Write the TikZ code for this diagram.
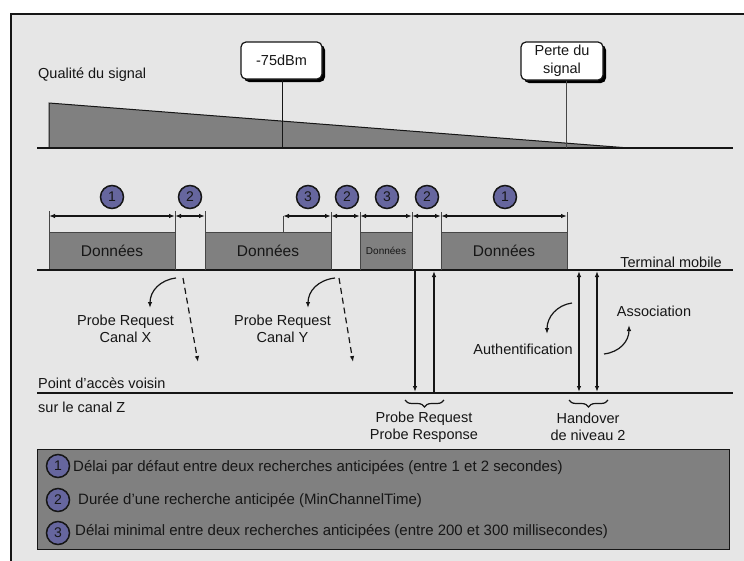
\documentclass[tikz,border=0pt]{standalone}
\usepackage{fontspec}
\setmainfont{Liberation Sans}
\usetikzlibrary{arrows.meta,decorations.pathreplacing,shadows}

\definecolor{panel}{RGB}{230,230,230}
\definecolor{slab}{RGB}{128,128,128}
\definecolor{badgefill}{RGB}{102,102,158}
\definecolor{ink}{RGB}{22,22,22}
\definecolor{tick}{RGB}{70,70,70}

\tikzset{
  tipA/.tip={Latex[length=6pt,width=4.5pt]},
  lbl/.style={font=\fontsize{14.5}{17}\selectfont, text=ink, inner sep=0pt, align=center},
  legendtxt/.style={font=\fontsize{15}{17}\selectfont, text=ink, inner sep=0pt, anchor=west},
  badge/.style={circle, draw=ink, line width=1.5pt, fill=badgefill, minimum size=23pt,
    inner sep=0pt, font=\fontsize{14}{14}\selectfont, text=ink},
  databox/.style={draw=tick, line width=0.8pt, fill=slab, minimum height=38pt,
    inner sep=0pt, font=\fontsize{15.5}{17}\selectfont, text=ink},
  labelbox/.style={draw=ink, fill=white, rounded corners=5pt, line width=1.2pt,
    align=center, inner sep=0pt, font=\fontsize{14.5}{18}\selectfont, text=ink,
    drop shadow={shadow xshift=3pt, shadow yshift=-3pt, opacity=1, fill=black}},
  axis/.style={draw=ink, line width=1.8pt},
  ticker/.style={draw=tick, line width=0.9pt},
  dim/.style={draw=ink, line width=1.4pt, tipA-tipA},
  msg/.style={draw=ink, line width=1.4pt},
  curvearrow/.style={draw=ink, line width=1.2pt, -tipA},
  dashmsg/.style={draw=ink, line width=1.2pt, dash pattern=on 6pt off 4pt, -tipA},
}

\begin{document}
\begin{tikzpicture}[x=1pt,y=-1pt]
\useasboundingbox (0,0) rectangle (744,560);

% outer panel
\draw[draw=ink, line width=2pt, fill=panel] (11,14) rectangle (760,580);

% ---- signal quality ----
\node[lbl, anchor=west] (qual) at (38,75) {Qualité du signal};
\fill[slab] (49,148) -- (49,103) -- (629,148) -- cycle;
\draw[draw=ink, line width=1pt] (49,148) -- (49,103) -- (629,148);
\coordinate (sigL) at (37,148);
\coordinate (sigR) at (733,148);
\draw[axis] (sigL) -- (sigR);

\node[labelbox, minimum width=81pt, minimum height=37pt] (dbm) at (281.5,60.5) {-75dBm};
\node[labelbox, minimum width=82pt, minimum height=38pt] (loss) at (562,61) {Perte du\\signal};
\coordinate (dbmFoot) at (282,148);
\coordinate (lossFoot) at (566,148);
\draw[draw=ink, line width=1pt] (dbm.south -| dbmFoot) -- (dbmFoot);
\draw[draw=tick, line width=1pt] (loss.south -| lossFoot) -- (lossFoot);

% ---- mobile terminal timeline ----
\node[databox, minimum width=126pt] (d1) at (112,251) {Données};
\node[databox, minimum width=126pt] (d2) at (268,251) {Données};
\node[databox, minimum width=52pt, font=\fontsize{10}{12}\selectfont] (d3) at (386,251) {Données};
\node[databox, minimum width=126pt] (d4) at (504,251) {Données};

\coordinate (mobL) at (37,270);
\coordinate (mobR) at (733,270);
\draw[axis] (mobL) -- (mobR);
\node[lbl, anchor=east] (mob) at (722,262) {Terminal mobile};

% boundary ticks
\foreach \n/\x/\ya/\yb in {a/49/211/232, b/175/211/270, c/205/211/270, d/283/216/232,
                           e/331/212/270, f/360/212/270, g/412/212/270, h/441/212/270, i/567/212/232}{
  \coordinate (top\n) at (\x,\ya);
  \coordinate (bot\n) at (\x,\yb);
  \coordinate (m\n) at (\x,216);
  \draw[ticker] (top\n) -- (bot\n);
}

% interval arrows
\draw[dim] (ma) -- (mb);
\draw[dim] (mb) -- (mc);
\draw[dim] (md) -- (me);
\draw[dim] (me) -- (mf);
\draw[dim] (mf) -- (mg);
\draw[dim] (mg) -- (mh);
\draw[dim] (mh) -- (mi);

% interval badges
\node[badge] (b1) at (112,197) {1};
\node[badge] (b2) at (190,197) {2};
\node[badge] (b3) at (308,197) {3};
\node[badge] (b4) at (347,197) {2};
\node[badge] (b5) at (387,197) {3};
\node[badge] (b6) at (427,197) {2};
\node[badge] (b7) at (505,197) {1};

% ---- probes on other channels ----
\coordinate (cx0) at (176,278);
\coordinate (cx1) at (150,308);
\draw[curvearrow] (cx0) .. controls (160,280) and (150,291) .. (cx1);
\node[lbl] (probeX) at (125.5,328.5) {Probe Request\\Canal X};
\coordinate (dx0) at (183,278);
\coordinate (dx1) at (198,362);
\draw[dashmsg] (dx0) -- (dx1);

\coordinate (cy0) at (335,278);
\coordinate (cy1) at (308,308);
\draw[curvearrow] (cy0) .. controls (318,280) and (308,291) .. (cy1);
\node[lbl] (probeY) at (282.5,328.5) {Probe Request\\Canal Y};
\coordinate (dy0) at (339,278);
\coordinate (dy1) at (353,362);
\draw[dashmsg] (dy0) -- (dy1);

% ---- neighbour access point ----
\node[lbl, anchor=west] (ap) at (38,383) {Point d’accès voisin};
\node[lbl, anchor=west] (apz) at (38,407) {sur le canal Z};
\coordinate (apL) at (37,393);
\coordinate (apR) at (733,393);
\draw[axis] (apL) -- (apR);

% probe exchange
\coordinate (pq0) at (415,271);
\coordinate (pq1) at (415,392);
\coordinate (pr0) at (434,392);
\coordinate (pr1) at (434,271);
\draw[msg, -tipA] (pq0) -- (pq1);
\draw[msg, -tipA] (pr0) -- (pr1);

% handover exchanges
\coordinate (au0) at (579,271);
\coordinate (au1) at (579,392);
\coordinate (as0) at (597,271);
\coordinate (as1) at (597,392);
\draw[msg, tipA-tipA] (au0) -- (au1);
\draw[msg, tipA-tipA] (as0) -- (as1);

\coordinate (ca0) at (572,303);
\coordinate (ca1) at (547,334);
\draw[curvearrow] (ca0) .. controls (557,305) and (547,317) .. (ca1);
\node[lbl] (auth) at (523,349) {Authentification};

\coordinate (cs0) at (604,354);
\coordinate (cs1) at (629,325);
\draw[curvearrow] (cs0) .. controls (620,352) and (629,341) .. (cs1);
\node[lbl] (assoc) at (654,311) {Association};

% braces
\coordinate (br0) at (405,400);
\coordinate (br1) at (444,400);
\draw[draw=ink, line width=1.2pt, decorate, decoration={brace, mirror, amplitude=7pt}] (br0) -- (br1);
\node[lbl] (probeRR) at (424,427) {Probe Request\\Probe Response};

\coordinate (bh0) at (569,400);
\coordinate (bh1) at (608,400);
\draw[draw=ink, line width=1.2pt, decorate, decoration={brace, mirror, amplitude=7pt}] (bh0) -- (bh1);
\node[lbl] (hand) at (588,427) {Handover\\de niveau 2};

% ---- legend ----
\draw[draw=ink, line width=1pt, fill=slab] (37,449) rectangle (729,549);
\node[badge] (l1) at (58,466) {1};
\node[badge] (l2) at (58,500) {2};
\node[badge] (l3) at (58,533) {3};
\node[legendtxt] (t1) at (73,468) {Délai par défaut entre deux recherches anticipées (entre 1 et 2 secondes)};
\node[legendtxt] (t2) at (78,501) {Durée d’une recherche anticipée (MinChannelTime)};
\node[legendtxt] (t3) at (75,532) {Délai minimal entre deux recherches anticipées (entre 200 et 300 millisecondes)};
\end{tikzpicture}
\end{document}
